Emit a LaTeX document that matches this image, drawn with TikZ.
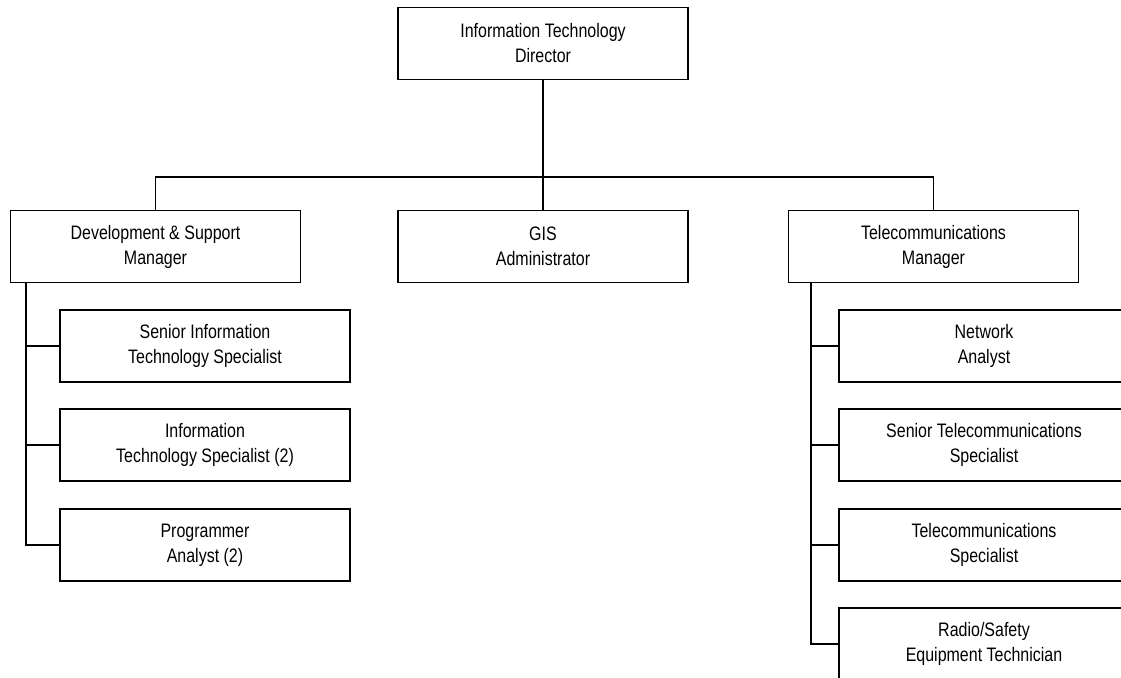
\documentclass[tikz,border=0pt]{standalone}
\usepackage{fontspec}
\setmainfont{Liberation Sans}[FakeStretch=0.82]
\begin{document}
\begin{tikzpicture}[x=1pt,y=-1pt,
  box/.style={draw, line width=1.4pt, minimum width=290pt, minimum height=72pt,
    inner sep=0pt, align=center, font=\fontsize{19.5}{25}\selectfont},
  link/.style={line width=1.4pt}]
\useasboundingbox (0,0) rectangle (1121,677);

% top level
\node[box] (dir) at (543,43.5) {Information Technology\\Director};

% second level
\node[box] (dev) at (155.5,246.5) {Development \& Support\\Manager};
\node[box] (gis) at (543,246.5) {GIS\\Administrator};
\node[box] (tel) at (933.5,246.5) {Telecommunications\\Manager};

% development & support staff
\node[box] (d1) at (205,346) {Senior Information\\Technology Specialist};
\node[box] (d2) at (205,445) {Information\\Technology Specialist (2)};
\node[box] (d3) at (205,545) {Programmer\\Analyst (2)};

% telecommunications staff
\node[box] (t1) at (984,346) {Network\\Analyst};
\node[box] (t2) at (984,445) {Senior Telecommunications\\Specialist};
\node[box] (t3) at (984,545) {Telecommunications\\Specialist};
\node[box] (t4) at (984,644) {Radio/Safety\\Equipment Technician};

% connectors
\coordinate (bar) at (543,177);
\draw[link] (dir.south) -- (gis.north);
\draw[link] (dev.north) |- (bar) -| (tel.north);

\draw[link] ([xshift=16pt]dev.south west) |- (d3.west);
\draw[link] ([xshift=16pt]dev.south west) |- (d1.west);
\draw[link] ([xshift=16pt]dev.south west) |- (d2.west);

\draw[link] ([xshift=23pt]tel.south west) |- (t4.west);
\draw[link] ([xshift=23pt]tel.south west) |- (t1.west);
\draw[link] ([xshift=23pt]tel.south west) |- (t2.west);
\draw[link] ([xshift=23pt]tel.south west) |- (t3.west);
\end{tikzpicture}
\end{document}
